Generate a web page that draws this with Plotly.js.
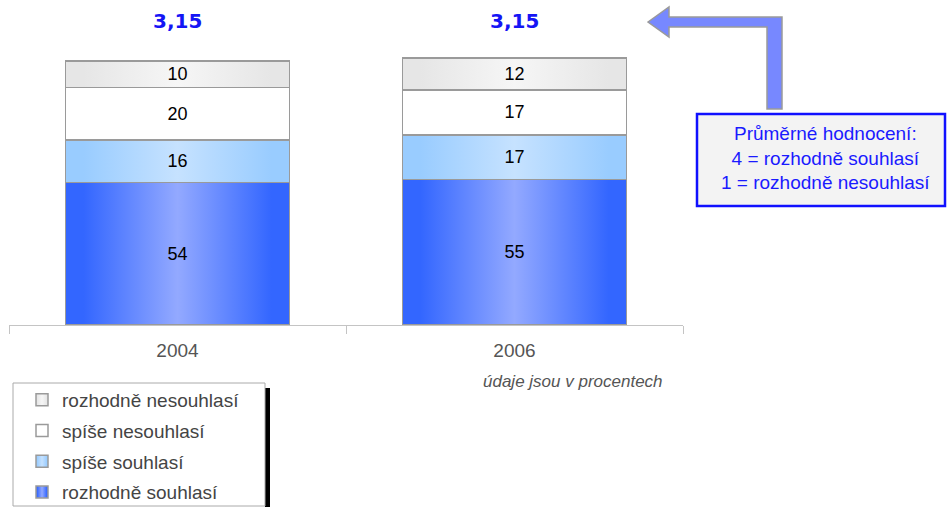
<!DOCTYPE html>
<html>
<head>
<meta charset="utf-8">
<script src="https://cdn.plot.ly/plotly-3.0.1.min.js"></script>
<style>html,body{margin:0;padding:0;background:#fff;}#chart{width:947px;height:507px;}</style>
</head>
<body>
<div id="chart"></div>
<script>
const years = ['2004', '2006'];
const strongAgree = [54, 55];
const ratherAgree = [16, 17];
const ratherDisagree = [20, 17];
const strongDisagree = [10, 12];
const averages = [3.15, 3.15];
const seriesNames = ['rozhodně souhlasí', 'spíše souhlasí', 'spíše nesouhlasí', 'rozhodně nesouhlasí'];
const noteText = 'údaje jsou v procentech';
const boxLines = ['Průměrné hodnocení:', '4 = rozhodně souhlasí', '1 = rozhodně nesouhlasí'];

const FONT = 'Liberation Sans, Arial, sans-serif';
const W = 947, H = 507;
const L = 9, R = 683, T = 8, B = 325;
const px = x => (x - L) / (R - L);
const py = y => (B - y) / (B - T);

const baseColors = ['#3366FF', '#99CCFF', '#FFFFFF', '#E6E6E6'];
const gradients = [
  ['#3366FF', '#93A9FF'],
  ['#99CCFF', '#C6E2FF'],
  ['#FFFFFF', '#FFFFFF'],
  ['#E6E6E6', '#F6F6F6']
];
const seriesValues = [strongAgree, ratherAgree, ratherDisagree, strongDisagree];

const data = seriesValues.map((vals, i) => ({
  type: 'bar',
  name: seriesNames[i],
  x: years,
  y: vals,
  width: 0.665,
  marker: {color: baseColors[i], line: {color: '#9a9a9a', width: 1.5}},
  text: vals.map(String),
  texttemplate: '%{text}',
  textposition: 'inside',
  insidetextanchor: 'middle',
  textangle: 0,
  textfont: {family: FONT, size: 18, color: '#000'},
  hoverinfo: 'none',
  legendgroup: 'g' + i,
  legendrank: 100 - i
}));

const annotations = years.map((yr, i) => ({
  x: i, y: 115, xref: 'x', yref: 'y',
  text: '<b>' + averages[i].toFixed(2).replace('.', ',') + '</b>',
  showarrow: false,
  font: {family: 'DejaVu Sans, Verdana, sans-serif', size: 20, color: '#1515F5'},
  yanchor: 'middle'
}));
annotations.push({
  x: px(665), y: py(381), xref: 'paper', yref: 'paper',
  xanchor: 'right', yanchor: 'middle',
  text: '<i>' + noteText + '</i>', showarrow: false,
  font: {family: FONT, size: 17, color: '#555'}
});
annotations.push({
  x: px(825), y: py(158), xref: 'paper', yref: 'paper',
  xanchor: 'center', yanchor: 'middle',
  text: boxLines.join('<br>'), showarrow: false,
  font: {family: FONT, size: 19, color: '#1a1aff'}
});

const arrowPts = [[648,22],[669,7],[669,17],[782,17],[782,109],[767,109],[767,27],[669,27],[669,37]];
const arrowPath = 'M ' + arrowPts.map(p => px(p[0]) + ',' + py(p[1])).join(' L ') + ' Z';

const shapes = [
  {type: 'path', xref: 'paper', yref: 'paper', path: arrowPath,
   fillcolor: '#7788FF', line: {color: '#9a9a9a', width: 1.5}},
  {type: 'rect', xref: 'paper', yref: 'paper', x0: px(697), x1: px(945), y0: py(114), y1: py(206),
   fillcolor: '#f3f3f3', line: {color: '#1010FF', width: 2.5}},
  {type: 'rect', xref: 'paper', yref: 'paper', x0: px(265), x1: px(270), y0: py(388), y1: py(507),
   fillcolor: '#000', line: {width: 0}},
  {type: 'rect', xref: 'paper', yref: 'paper', x0: px(13), x1: px(265), y0: py(383), y1: py(506),
   fillcolor: '#fff', line: {color: '#aaaaaa', width: 1}}
];

const layout = {
  width: W, height: H,
  margin: {l: L, r: W - R, t: T, b: H - B, autoexpand: false},
  paper_bgcolor: '#fff', plot_bgcolor: '#fff',
  barmode: 'stack',
  showlegend: true,
  font: {family: FONT},
  xaxis: {
    type: 'category', range: [-0.5, 1.5], fixedrange: true,
    showline: true, linecolor: '#c4c4c4', linewidth: 1,
    ticks: 'outside', tickson: 'boundaries', ticklen: 8, tickcolor: '#c4c4c4',
    tickfont: {family: FONT, size: 19, color: '#555'},
    ticklabelstandoff: 8,
    showgrid: false
  },
  yaxis: {range: [0, 120], visible: false, showgrid: false, zeroline: false, fixedrange: true},
  legend: {
    xref: 'container', yref: 'container',
    x: 22 / W, y: 1 - 381 / H, xanchor: 'left', yanchor: 'top',
    traceorder: 'grouped', tracegroupgap: 3,
    bgcolor: 'rgba(0,0,0,0)', borderwidth: 0,
    font: {family: FONT, size: 19, color: '#444'},
    itemclick: false, itemdoubleclick: false
  },
  annotations: annotations,
  shapes: shapes
};

Plotly.newPlot('chart', data, layout, {displayModeBar: false, staticPlot: true}).then(gd => {
  const svg = gd.querySelector('svg.main-svg');
  const ns = 'http://www.w3.org/2000/svg';
  let defs = svg.querySelector('defs');
  if (!defs) { defs = document.createElementNS(ns, 'defs'); svg.insertBefore(defs, svg.firstChild); }
  gradients.forEach((g, i) => {
    const lg = document.createElementNS(ns, 'linearGradient');
    lg.setAttribute('id', 'barGrad' + i);
    lg.setAttribute('x1', '0'); lg.setAttribute('x2', '1');
    lg.setAttribute('y1', '0'); lg.setAttribute('y2', '0');
    [[0, g[0]], [0.08, g[0]], [0.5, g[1]], [0.92, g[0]], [1, g[0]]].forEach(s => {
      const st = document.createElementNS(ns, 'stop');
      st.setAttribute('offset', s[0]);
      st.setAttribute('stop-color', s[1]);
      lg.appendChild(st);
    });
    defs.appendChild(lg);
  });
  const traces = gd.querySelectorAll('.barlayer .trace');
  traces.forEach((tr, i) => {
    tr.querySelectorAll('.point path').forEach(p => { p.style.fill = 'url(#barGrad' + i + ')'; });
  });
  gd.querySelectorAll('.legend .traces').forEach(t => {
    const name = t.__data__ && t.__data__[0] && t.__data__[0].trace ? t.__data__[0].trace.name : null;
    const idx = seriesNames.indexOf(name);
    if (idx >= 0) t.querySelectorAll('.legendpoints path').forEach(p => { p.style.fill = 'url(#barGrad' + idx + ')'; });
  });
});
</script>
</body>
</html>
